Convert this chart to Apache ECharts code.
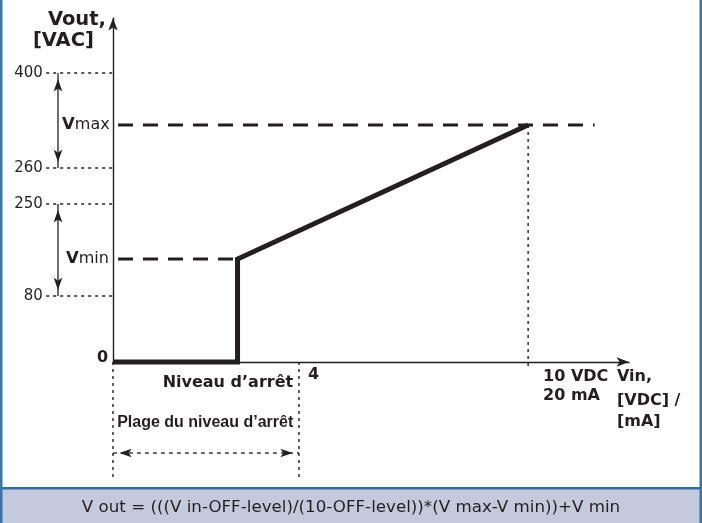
<!DOCTYPE html>
<html>
<head>
<meta charset="utf-8">
<script src="https://cdn.jsdelivr.net/npm/echarts@6/dist/echarts.min.js"></script>
<style>html,body{margin:0;padding:0;background:#fff}#c{width:702px;height:523px}</style>
</head>
<body>
<div id="c"></div>
<script>
// ---- schematic values (diagram units) ----
const yTickLabels = ['400', '260', '250', '80'];
const yTickLevels = [28.9, 19.4, 15.8, 6.6];
const vMaxLevel = 23.7;      // V max
const vMinLevel = 10.3;      // V min
const offLevel = 3;          // "Niveau d'arrêt"
const offRangeMax = 4.48;    // "4" (end of off-level range)
const vinMax = 10;           // 10 VDC / 20 mA
const formula = 'V out = (((V in-OFF-level)/(10-OFF-level))*(V max-V min))+V min';

// ---- layout (positions in diagram units) ----
const INK = '#231f20';
const guideStartX = -1.61, rangeArrowY = -9.1, dropBottom = -11.8, arrowX = -1.325;
const vDashStart = 0.12, vMaxDashEnd = 11.6;

const texts = [
  {t: 'Vout,', x: -0.17, y: 34.2, a: 'right', s: 'h'},
  {t: '[VAC]', x: -0.46, y: 32.1, a: 'right', s: 'h'},
  {t: '{b|V}{r|max}', x: -0.08, y: vMaxLevel, a: 'right', s: 'v'},
  {t: '{b|V}{r|min}', x: -0.1, y: vMinLevel, a: 'right', s: 'v'},
  {t: '0', x: -0.12, y: 0.4, a: 'right', s: 'b'},
  {t: 'Niveau d’arrêt', x: 4.34, y: -2.1, a: 'right', s: 'b'},
  {t: '4', x: 4.7, y: -1.3, a: 'left', s: 'b'},
  {t: 'Plage du niveau d’arrêt', x: 0.1, y: -6.1, a: 'left', s: 'n'},
  {t: '10 VDC', x: 10.36, y: -1.5, a: 'left', s: 'b'},
  {t: '20 mA', x: 10.36, y: -3.4, a: 'left', s: 'b'},
  {t: 'Vin,', x: 12.14, y: -1.5, a: 'left', s: 'b'},
  {t: '[VDC] /', x: 12.14, y: -3.9, a: 'left', s: 'b'},
  {t: '[mA]', x: 12.14, y: -6.0, a: 'left', s: 'b'}
];
yTickLabels.forEach((l, i) => texts.push({t: l, x: -1.69, y: yTickLevels[i], a: 'right', s: 't'}));

const styles = {
  h: {fontFamily: 'DejaVu Sans', fontWeight: 'bold', fontSize: 19.5},
  b: {fontFamily: 'DejaVu Sans', fontWeight: 'bold', fontSize: 16},
  n: {fontFamily: 'Liberation Sans', fontWeight: 'bold', fontSize: 16},
  t: {fontFamily: 'DejaVu Sans', fontSize: 15},
  v: {rich: {b: {fontFamily: 'DejaVu Sans', fontWeight: 'bold', fontSize: 16.5, color: INK},
             r: {fontFamily: 'DejaVu Sans', fontSize: 16, color: INK}}}
};

function lineSeries(data, style) {
  return {type: 'line', data, symbol: 'none', clip: false, silent: true, animation: false,
          lineStyle: Object.assign({color: INK, width: 1.3, cap: 'butt', join: 'miter'}, style), z: 3};
}

// thin guide segments: [x1, y1, x2, y2, kind]  kind 0 = dotted, 1 = solid, 2 = short dash
const lineKinds = [{w: 1.4, dash: [3, 4]}, {w: 1.3, dash: null}, {w: 1.3, dash: [4, 4]}];
const segs = [];
yTickLevels.forEach(l => segs.push([guideStartX, l, 0, l, 0]));
segs.push([0, 0, 0, dropBottom, 0]);
segs.push([offRangeMax, 0, offRangeMax, dropBottom, 0]);
segs.push([vinMax, vMaxLevel, vinMax, -0.6, 0]);
segs.push([arrowX, yTickLevels[0], arrowX, yTickLevels[1], 1]);
segs.push([arrowX, yTickLevels[2], arrowX, yTickLevels[3], 1]);
segs.push([0, rangeArrowY, offRangeMax, rangeArrowY, 2]);

const series = [];
series.push({
  type: 'custom', clip: false, silent: true, animation: false, z: 3,
  encode: {x: [0, 2], y: [1, 3]},
  data: segs,
  renderItem: (params, api) => {
    const p1 = api.coord([api.value(0), api.value(1)]);
    const p2 = api.coord([api.value(2), api.value(3)]);
    const k = lineKinds[api.value(4)];
    return {type: 'line', shape: {x1: p1[0], y1: p1[1], x2: p2[0], y2: p2[1]},
            style: {stroke: INK, lineWidth: k.w, lineDash: k.dash, fill: null}};
  }
});
// Vmax / Vmin dashed
series.push(lineSeries([[vDashStart, vMaxLevel], [vMaxDashEnd, vMaxLevel]], {type: [15, 10], width: 3}));
series.push(lineSeries([[vDashStart, vMinLevel], [offLevel, vMinLevel]], {type: [15, 10], width: 3}));
// main characteristic
const mainLine = lineSeries([[0, 0], [offLevel, 0], [offLevel, vMinLevel], [vinMax, vMaxLevel]], {width: 5});
mainLine.z = 5;
series.push(mainLine);
// arrowheads
const ah = 0.6, ahx = 0.15;
series.push({
  type: 'scatter', clip: false, silent: true, animation: false, symbol: 'arrow', symbolSize: [6.5, 12.5],
  itemStyle: {color: INK, opacity: 1}, z: 4,
  data: [
    {value: [arrowX, yTickLevels[0] - ah], symbolRotate: 0},
    {value: [arrowX, yTickLevels[1] + ah], symbolRotate: 180},
    {value: [arrowX, yTickLevels[2] - ah], symbolRotate: 0},
    {value: [arrowX, yTickLevels[3] + ah], symbolRotate: 180},
    {value: [0 + ahx, rangeArrowY], symbolRotate: 90},
    {value: [offRangeMax - ahx, rangeArrowY], symbolRotate: -90}
  ]
});
// texts
series.push({
  type: 'scatter', clip: false, silent: true, animation: false, symbolSize: 0, z: 6,
  itemStyle: {opacity: 1},
  data: texts.map(o => ({
    value: [o.x, o.y],
    label: Object.assign({show: true, position: 'inside', formatter: o.t, align: o.a,
                          verticalAlign: 'middle', color: INK}, styles[o.s])
  }))
});

const axisLine = {show: true, symbol: ['none', 'arrow'], symbolSize: [7, 12.5],
                  lineStyle: {color: INK, width: 1.4}};
const option = {
  animation: false,
  grid: {left: 113, right: 73, top: 18, bottom: 161, containLabel: false, outerBoundsMode: 'none'},
  xAxis: {type: 'value', min: 0, max: 12.43, axisLine, axisTick: {show: false},
          axisLabel: {show: false}, splitLine: {show: false}},
  yAxis: {type: 'value', min: 0, max: 34.4, axisLine, axisTick: {show: false},
          axisLabel: {show: false}, splitLine: {show: false}},
  series,
  graphic: [
    {type: 'rect', shape: {x: 0, y: 488, width: 702, height: 35}, style: {fill: '#c4c9dc'}, z: 0},
    {type: 'rect', shape: {x: 0, y: 487, width: 702, height: 2.5}, style: {fill: '#2f6da6'}, z: 1},
    {type: 'rect', shape: {x: 0, y: 0, width: 2.5, height: 523}, style: {fill: '#3775ad'}, z: 1},
    {type: 'rect', shape: {x: 699.5, y: 0, width: 2.5, height: 523}, style: {fill: '#3775ad'}, z: 1},
    {type: 'text', x: 351, y: 508, style: {text: formula, fontFamily: 'DejaVu Sans', fontSize: 16.7,
      fill: INK, align: 'center', verticalAlign: 'middle'}, z: 2}
  ]
};
echarts.init(document.getElementById('c')).setOption(option);
</script>
</body>
</html>
